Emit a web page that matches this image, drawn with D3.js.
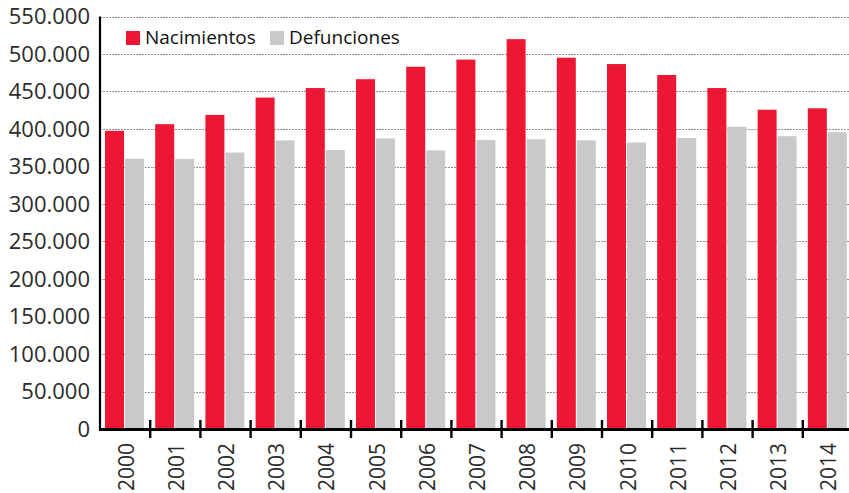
<!DOCTYPE html>
<html>
<head>
<meta charset="utf-8">
<script src="https://cdn.jsdelivr.net/npm/d3@7"></script>
<style>
  html, body { margin: 0; padding: 0; background: #fff; }
  svg { display: block; font-family: "Open Sans", sans-serif; }
</style>
</head>
<body>
<div id="chart"></div>
<script>
// Nacimientos y defunciones 2000-2014
const years = ["2000", "2001", "2002", "2003", "2004", "2005", "2006", "2007",
    "2008", "2009", "2010", "2011", "2012", "2013", "2014"];
const nacimientos = [397600, 406400, 418800, 441900, 454600, 466400, 483000, 492500,
    519800, 495000, 486600, 472000, 454600, 425700, 427600];
const defunciones = [360400, 360100, 368600, 384800, 371900, 387400, 371500, 385400,
    386300, 384900, 382000, 387900, 403000, 390400, 395800];
const seriesNames = ["Nacimientos", "Defunciones"];
const yTicks = [0, 50000, 100000, 150000, 200000, 250000, 300000, 350000,
    400000, 450000, 500000, 550000];

const width = 849;
const height = 493;
const colors = { Nacimientos: "#ec1733", Defunciones: "#c8c9cb" };

const svg = d3.select("#chart")
    .append("svg")
    .attr("width", width)
    .attr("height", height);

const x = d3.scaleBand()
    .domain(years)
    .range([100, 853])
    .padding(0);

const xInner = d3.scaleBand()
    .domain(seriesNames)
    .range([5, 44])
    .paddingInner(0.05);

const y = d3.scaleLinear()
    .domain([0, 550000])
    .range([429, 16.5]);

const fmt = v => d3.format(",")(v).replace(/,/g, ".");

// -- grid --
svg.append("g")
    .selectAll("line")
    .data(yTicks.filter(d => d > 0))
    .join("line")
    .attr("x1", 100)
    .attr("x2", width)
    .attr("y1", d => Math.round(y(d)) + 0.5)
    .attr("y2", d => Math.round(y(d)) + 0.5)
    .attr("stroke", "#8f8f8f")
    .attr("stroke-width", 1.2)
    .attr("stroke-dasharray", "2,1");

// -- bars --
const rows = years.map((yr, i) => ({
    year: yr,
    values: [
        { key: "Nacimientos", value: nacimientos[i] },
        { key: "Defunciones", value: defunciones[i] }
    ]
}));

svg.append("g")
    .selectAll("g")
    .data(rows)
    .join("g")
    .attr("transform", d => `translate(${x(d.year)},0)`)
    .selectAll("rect")
    .data(d => d.values)
    .join("rect")
    .attr("x", d => xInner(d.key))
    .attr("width", xInner.bandwidth())
    .attr("y", d => y(d.value))
    .attr("height", d => y(0) - y(d.value))
    .attr("fill", d => colors[d.key]);

// -- y axis --
const yAxis = svg.append("g");
yAxis.append("line")
    .attr("x1", 100).attr("x2", 100)
    .attr("y1", y(550000)).attr("y2", 430.5)
    .attr("stroke", "#000")
    .attr("stroke-width", 2.2);

yAxis.selectAll("text")
    .data(yTicks)
    .join("text")
    .attr("x", 90)
    .attr("y", d => y(d))
    .attr("dy", "0.36em")
    .attr("text-anchor", "end")
    .attr("fill", "#2b2b2b")
    .style("font-size", "22px")
    .text(fmt);

// -- x axis --
const xAxis = svg.append("g");
xAxis.append("line")
    .attr("x1", 99).attr("x2", width)
    .attr("y1", 429.5).attr("y2", 429.5)
    .attr("stroke", "#000")
    .attr("stroke-width", 2.8);

xAxis.selectAll("line.tick")
    .data(years.slice(1).concat(["end"]))
    .join("line")
    .attr("class", "tick")
    .attr("x1", d => d === "end" ? x.range()[1] : x(d))
    .attr("x2", d => d === "end" ? x.range()[1] : x(d))
    .attr("y1", 420)
    .attr("y2", 438)
    .attr("stroke", "#000")
    .attr("stroke-width", 2.4);

xAxis.selectAll("text")
    .data(years)
    .join("text")
    .attr("transform", d => `translate(${x(d) + x.bandwidth() / 2 + 1},443) rotate(-90)`)
    .attr("dy", "0.36em")
    .attr("text-anchor", "end")
    .attr("fill", "#2b2b2b")
    .style("font-size", "21px")
    .text(d => d);

// -- legend --
const legend = svg.append("g")
    .selectAll("g")
    .data(seriesNames)
    .join("g")
    .attr("transform", (d, i) => `translate(${i === 0 ? 126 : 270},31)`);

legend.append("rect")
    .attr("width", 14)
    .attr("height", 14)
    .attr("fill", d => colors[d]);

legend.append("text")
    .attr("x", 19)
    .attr("y", 13)
    .attr("fill", "#111")
    .style("font-size", "19px")
    .text(d => d);
</script>
</body>
</html>
